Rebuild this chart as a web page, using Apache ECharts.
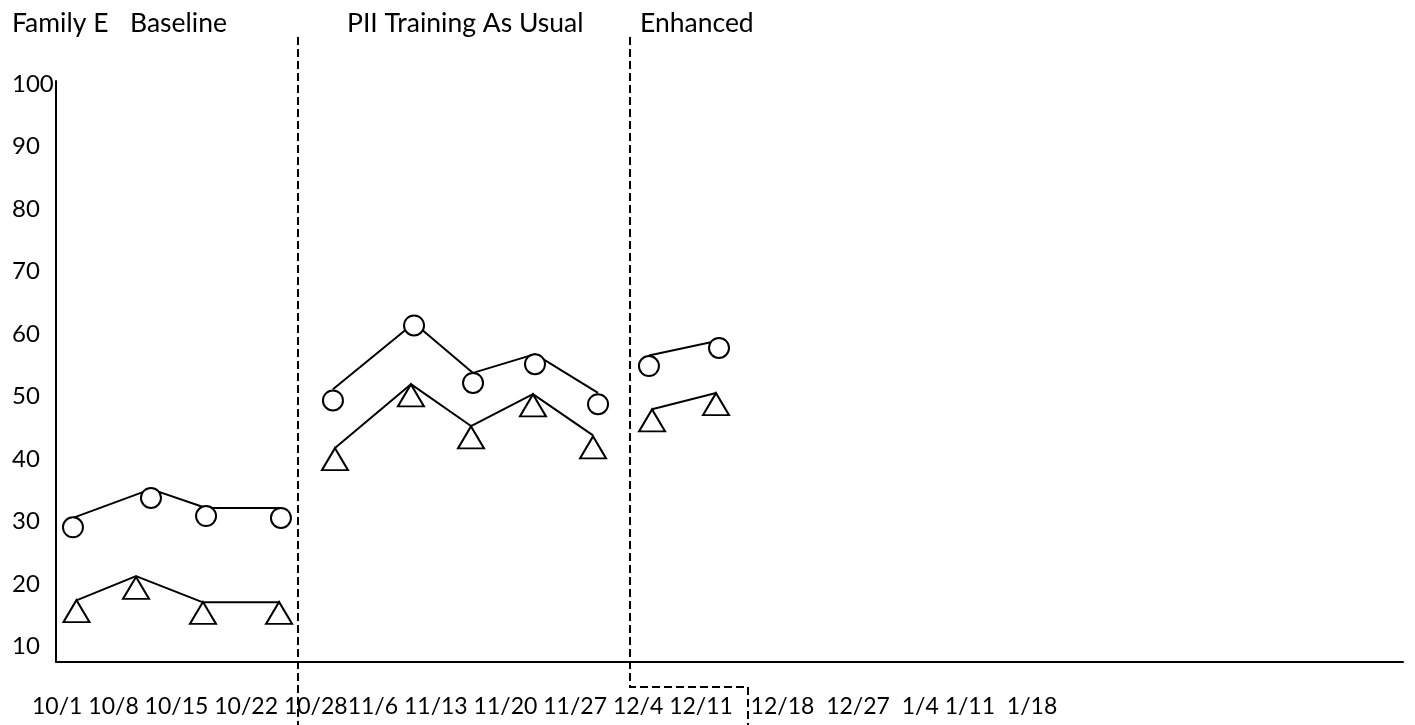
<!DOCTYPE html>
<html>
<head>
<meta charset="utf-8">
<script src="https://cdn.jsdelivr.net/npm/echarts@6/dist/echarts.min.js"></script>
<style>
  html, body { margin: 0; padding: 0; background: #fff; }
  #main { width: 1415px; height: 725px; }
</style>
</head>
<body>
<div id="main"></div>
<script>
// ---------- DATA ----------
const chartTitle = 'Family E';
const phaseNames = ['Baseline', 'PII Training As Usual', 'Enhanced'];
const xTickLabels = ['10/1','10/8','10/15','10/22','10/28','11/6','11/13','11/20','11/27','12/4','12/11','12/18','12/27','1/4','1/11','1/18'];
const yTickLabels = [10, 20, 30, 40, 50, 60, 70, 80, 90, 100];

// session positions along the time line (0–100 scale of the axis length)
const circleX   = [[1.26, 7.05, 11.14, 16.70], [20.56, 26.58, 30.96, 35.56, 40.24], [44.02, 49.22]];
const circleY   = [[29.1, 33.8, 30.9, 30.6],   [49.4, 61.4, 52.2, 55.2, 48.8],      [54.9, 57.8]];
const circleLnY = [[30.6, 35.2, 32.2, 32.2],   [51.2, 61.8, 53.8, 56.8, 50.6],      [56.6, 59.0]];

const triX      = [[1.52, 5.94, 10.91, 16.56], [20.71, 26.35, 30.81, 35.41, 39.87], [44.25, 49.00]];
const triY      = [[15.7, 19.4, 15.4, 15.4],   [40.0, 50.2, 43.5, 48.6, 41.9],      [46.2, 48.8]];
const triLnY    = [[17.4, 21.3, 17.1, 17.1],   [41.8, 52.0, 45.3, 50.4, 43.8],      [48.0, 50.6]];

// phase change positions (same 0–100 scale)
const phaseChangeX = [17.97, 42.61];
const enhancedStepEndX = 51.37;

// ---------- CHART ----------
const FONT = 'Lato';
const chart = echarts.init(document.getElementById('main'), null, { renderer: 'canvas' });

const pairs = (xs, ys) => xs.map((x, i) => [x, ys[i]]);
const series = [];
for (let p = 0; p < phaseNames.length; p++) {
  series.push({
    type: 'line', name: 'circleLine' + p, data: pairs(circleX[p], circleLnY[p]),
    showSymbol: false, silent: true, z: 2,
    lineStyle: { color: '#000', width: 2 }
  });
  series.push({
    type: 'line', name: 'triLine' + p, data: pairs(triX[p], triLnY[p]),
    showSymbol: false, silent: true, z: 2,
    lineStyle: { color: '#000', width: 2 }
  });
  series.push({
    type: 'scatter', name: 'circle' + p, data: pairs(circleX[p], circleY[p]),
    symbol: 'circle', symbolSize: 20, z: 3,
    itemStyle: { color: '#fff', borderColor: '#000', borderWidth: 2, opacity: 1 }
  });
  series.push({
    type: 'scatter', name: 'tri' + p, data: pairs(triX[p], triY[p]),
    symbol: 'triangle', symbolSize: [26, 22], z: 3,
    itemStyle: { color: '#fff', borderColor: '#000', borderWidth: 2, opacity: 1 }
  });
}

chart.setOption({
  animation: false,
  backgroundColor: '#fff',
  textStyle: { fontFamily: FONT },
  grid: { left: 56, right: 12, top: 81, bottom: 63.3, containLabel: false },
  xAxis: {
    type: 'value', min: 0, max: 100,
    axisLine: { show: true, onZero: false, lineStyle: { color: '#000', width: 2 } },
    axisTick: { show: false }, axisLabel: { show: false }, splitLine: { show: false }
  },
  yAxis: {
    type: 'value', min: 7.6, max: 100.5,
    axisLine: { show: true, onZero: false, lineStyle: { color: '#000', width: 2 } },
    axisTick: { show: false }, splitLine: { show: false },
    axisLabel: {
      show: true, customValues: yTickLabels, align: 'left', margin: 44,
      color: '#000', fontSize: 24, fontFamily: FONT,
      showMinLabel: true, showMaxLabel: true
    }
  },
  series: series
});

// ---------- annotations (phase lines, titles, date row) ----------
const px = v => Math.round(chart.convertToPixel({ xAxisIndex: 0 }, v));
const p1 = px(phaseChangeX[0]);
const p2 = px(phaseChangeX[1]);
const p3 = px(enhancedStepEndX);
const dash = { stroke: '#000', lineWidth: 2, lineDash: [8, 4], fill: null };

const gaps = [' ', ' ', ' ', ' ', '', ' ', ' ', ' ', ' ', ' ', '   ', '  ', '  ', ' ', '  '];
let dateRow = xTickLabels[0];
for (let i = 1; i < xTickLabels.length; i++) dateRow += gaps[i - 1] + xTickLabels[i];

const txt = (x, y, s, size) => ({
  type: 'text', x: x, y: y, z: 10,
  style: { text: s, fill: '#000', font: size + 'px ' + FONT, textAlign: 'left', textVerticalAlign: 'middle' }
});

chart.setOption({
  graphic: [
    { type: 'polyline', shape: { points: [[p1, 37], [p1, 725]] }, style: dash, z: 5 },
    { type: 'polyline', shape: { points: [[p2, 37], [p2, 687], [p3, 687], [p3, 725]] }, style: dash, z: 5 },
    txt(12, 23, chartTitle, 26.5),
    txt(130, 23, phaseNames[0], 26.5),
    txt(347, 23, phaseNames[1], 26.5),
    txt(640, 23, phaseNames[2], 26.5),
    txt(32, 707, dateRow, 23)
  ]
});
</script>
</body>
</html>
